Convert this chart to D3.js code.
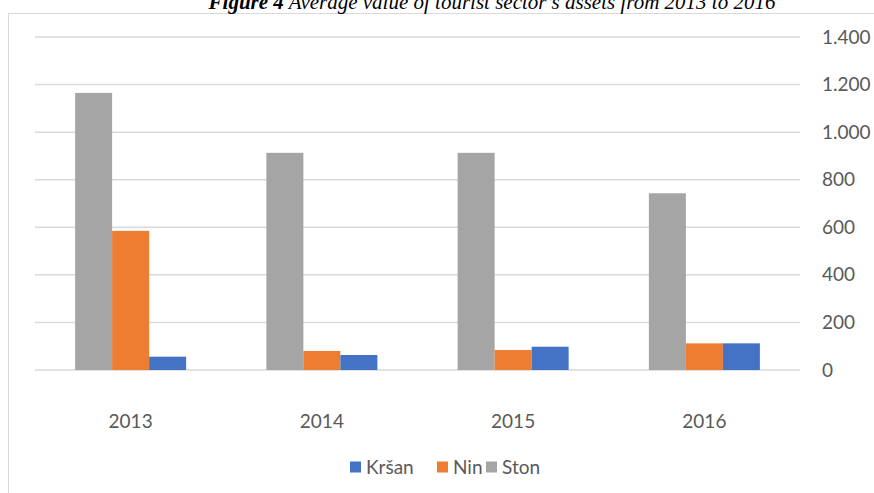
<!DOCTYPE html>
<html>
<head>
<meta charset="utf-8">
<script src="https://cdn.jsdelivr.net/npm/d3@7"></script>
<style>
  html, body { margin: 0; padding: 0; background: #fff; }
  svg { display: block; }
</style>
</head>
<body>
<svg id="chart" width="874" height="493"></svg>
<script>
// Average value of tourist sector's assets, by year and municipality
const years = ["2013", "2014", "2015", "2016"];
const seriesNames = ["Ston", "Nin", "Kršan"];          // order of bars inside each group
const legendOrder = ["Kršan", "Nin", "Ston"];
const ston  = [1165, 913, 913, 743];
const nin   = [585, 80, 84, 112];
const krsan = [56, 63, 98, 112];
const yTicks = [0, 200, 400, 600, 800, 1000, 1200, 1400];
const colors = { "Kršan": "#4472C4", "Nin": "#ED7D31", "Ston": "#A5A5A5" };

const valuesBySeries = { "Ston": ston, "Nin": nin, "Kršan": krsan };
const rows = years.map((y, i) => ({
  year: y,
  values: seriesNames.map(s => ({ series: s, value: valuesBySeries[s][i] }))
}));

const svg = d3.select("#chart");
const W = 874, H = 493;
const plot = { left: 35, right: 800, top: 37, bottom: 370 };
const labelFont = "Lato, 'Open Sans', sans-serif";
const labelColor = "#595959";

// Chart frame
svg.append("rect")
  .attr("x", 8.5).attr("y", 13.5)
  .attr("width", W + 10).attr("height", H + 10)
  .attr("fill", "#fff")
  .attr("stroke", "#d9d9d9").attr("stroke-width", 1);

// Figure caption, sitting right at the top edge above the frame
const title = svg.append("text")
  .attr("x", 492).attr("y", 9)
  .attr("text-anchor", "middle")
  .attr("font-family", "'Liberation Serif', 'Times New Roman', serif")
  .attr("font-style", "italic")
  .attr("font-size", 21)
  .attr("fill", "#000");
title.append("tspan").attr("font-weight", "bold").text("Figure 4");
title.append("tspan").text(" Average value of tourist sector’s assets from 2013 to 2016");

const x0 = d3.scaleBand().domain(years).range([plot.left, plot.right])
  .paddingInner(0.4196).paddingOuter(0.2098);
const x1 = d3.scaleBand().domain(seriesNames).range([0, x0.bandwidth()]);
const y = d3.scaleLinear().domain([0, 1400]).range([plot.bottom, plot.top]);

const locale = d3.formatLocale({ decimal: ",", thousands: ".", grouping: [3], currency: ["", ""] });
const fmt = locale.format(",");

// Gridlines
svg.append("g")
  .selectAll("line")
  .data(yTicks)
  .join("line")
  .attr("x1", plot.left).attr("x2", plot.right)
  .attr("y1", d => y(d)).attr("y2", d => y(d))
  .attr("stroke", "#d9d9d9").attr("stroke-width", 1.5);

// Y axis on the right
const yAxis = svg.append("g")
  .attr("transform", `translate(${plot.right + 22},0)`)
  .call(d3.axisRight(y).tickValues(yTicks).tickFormat(fmt).tickSize(0).tickPadding(0));
yAxis.select(".domain").remove();
yAxis.selectAll("text")
  .attr("font-family", labelFont)
  .attr("font-size", 19)
  .attr("fill", labelColor);

// Bars
svg.append("g")
  .selectAll("g")
  .data(rows)
  .join("g")
  .attr("transform", d => `translate(${x0(d.year)},0)`)
  .selectAll("rect")
  .data(d => d.values)
  .join("rect")
  .attr("x", d => x1(d.series))
  .attr("width", x1.bandwidth())
  .attr("y", d => y(d.value))
  .attr("height", d => y(0) - y(d.value))
  .attr("fill", d => colors[d.series]);

// Category axis labels
const xAxis = svg.append("g")
  .attr("transform", `translate(0,${plot.bottom + 44})`)
  .call(d3.axisBottom(x0).tickSize(0).tickPadding(0));
xAxis.select(".domain").remove();
xAxis.selectAll("text")
  .attr("font-family", labelFont)
  .attr("font-size", 19)
  .attr("fill", labelColor);

// Legend
const legendX = [350, 437, 486];
const legend = svg.append("g").attr("transform", "translate(0,467)");
legendOrder.forEach((name, i) => {
  const g = legend.append("g").attr("transform", `translate(${legendX[i]},0)`);
  g.append("rect").attr("x", 0).attr("y", -5.5).attr("width", 11).attr("height", 11)
    .attr("fill", colors[name]);
  g.append("text").attr("x", 16).attr("y", 0).attr("dy", "0.35em")
    .attr("font-family", labelFont)
    .attr("font-size", 19).attr("fill", labelColor).text(name);
});
</script>
</body>
</html>
